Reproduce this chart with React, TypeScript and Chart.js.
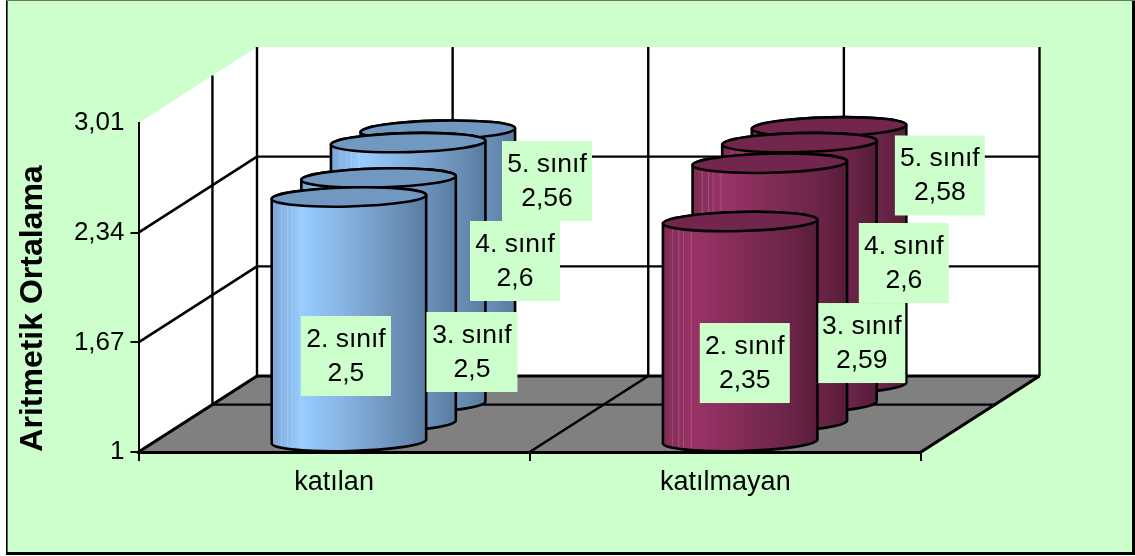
import React, { useEffect, useRef } from "react";
import { Chart, registerables } from "chart.js";

Chart.register(...registerables);

const categories = ["katılan", "katılmayan"];
const seriesNames = ["2. sınıf", "3. sınıf", "4. sınıf", "5. sınıf"];
const sinif2 = [2.5, 2.35];
const sinif3 = [2.5, 2.59];
const sinif4 = [2.6, 2.6];
const sinif5 = [2.56, 2.58];
const yTicks = [1, 1.67, 2.34, 3.01];
const axisTitle = "Aritmetik Ortalama";

const FONT = '"Liberation Sans", Arial, sans-serif';
const GREEN = "#CCFFCC";
const DEPTH_DX = 118.5;
const DEPTH_DY = 76;
const FLOOR_LINE = 0.624;
const RY = 9.5;
const TILT = -0.025;

const gradients = [
  [[0, "#78a4d6"], [0.06, "#86b4e4"], [0.2, "#99ccff"], [0.5, "#84b0dc"], [0.85, "#688db4"], [1, "#587a9e"]],
  [[0, "#7c2a54"], [0.06, "#8a2e5c"], [0.2, "#993366"], [0.55, "#7f2b55"], [0.85, "#692346"], [1, "#561c39"]],
];
const topFills = ["#7098c0", "#73264d"];
const sheenStripes = [0.06, 0.1, 0.13, 0.18];

// label box placement relative to the top centre of each cylinder: [dx, dy, boxWidth], by category then series
const labelPlacement = [
  [[-3, 159, 90], [93.4, 174, 91], [106.8, 118.4, 90], [109.2, 50.9, 90]],
  [[4.6, 141.5, 90], [92, 179.8, 87], [104.4, 120.4, 90], [110.8, 48.6, 90]],
];

const fmt = (v: number) => String(v).replace(".", ",");

const scenePlugin = {
  id: "scene3d",
  beforeDraw(chart: any) {
    const { ctx } = chart;
    const x = chart.scales.x;
    const y = chart.scales.y;
    const l = x.left, r = x.right;
    const b = y.bottom, t = y.top;
    const dx = DEPTH_DX, dy = DEPTH_DY;
    ctx.save();
    ctx.fillStyle = "#fff";
    ctx.fillRect(0, 0, chart.width, chart.height);
    ctx.fillStyle = GREEN;
    ctx.fillRect(6, 0, 1126, 553);
    ctx.fillStyle = "#000";
    ctx.fillRect(6, 0, 1.6, 555);
    ctx.fillRect(1132, 0, 3, 555);
    ctx.fillRect(6, 552, 1129, 3);
    ctx.fillStyle = "#667766";
    ctx.fillRect(6, 0, 1129, 1);

    // walls
    ctx.fillStyle = "#fff";
    ctx.beginPath();
    ctx.moveTo(l, b);
    ctx.lineTo(l + dx, b - dy);
    ctx.lineTo(r + dx, b - dy);
    ctx.lineTo(r + dx, t - dy);
    ctx.lineTo(l + dx, t - dy);
    ctx.lineTo(l, t);
    ctx.closePath();
    ctx.fill();

    // floor
    ctx.fillStyle = "#808080";
    ctx.beginPath();
    ctx.moveTo(l, b);
    ctx.lineTo(l + dx, b - dy);
    ctx.lineTo(r + dx, b - dy);
    ctx.lineTo(r, b);
    ctx.closePath();
    ctx.fill();

    ctx.strokeStyle = "#000";
    const seg = (x1: number, y1: number, x2: number, y2: number, w: number) => {
      ctx.lineWidth = w;
      ctx.beginPath();
      ctx.moveTo(x1, y1);
      ctx.lineTo(x2, y2);
      ctx.stroke();
    };

    // horizontal grid: side wall and back wall
    yTicks.forEach((v) => {
      if (v === yTicks[0] || v === yTicks[yTicks.length - 1]) return;
      const py = y.getPixelForValue(v);
      seg(l, py, l + dx, py - dy, 2.6);
      seg(l + dx, py - dy, r + dx, py - dy, 2.4);
    });
    // vertical grid: back wall, every half category
    const step = (r - l) / (categories.length * 2);
    for (let i = 0; i <= categories.length * 2; i++) {
      const px = l + dx + i * step;
      seg(px, t - dy, px, b - dy, 2.4);
    }
    // side wall vertical + floor cross line
    const fx = FLOOR_LINE * dx, fy = FLOOR_LINE * dy;
    seg(l + fx, t - fy, l + fx, b - fy, 2.4);
    seg(l + fx, b - fy, r + fx, b - fy, 2.4);
    // floor outline and category lines
    seg(l + dx, b - dy, r + dx, b - dy, 3);
    seg(l, b, l + dx, b - dy, 3.2);
    seg(r, b, r + dx, b - dy, 3.2);
    const mid = (l + r) / 2;
    seg(mid, b, mid + dx, b - dy, 2.6);
    ctx.restore();
  },
  afterDatasetsDraw(chart: any) {
    const { ctx } = chart;
    const n = chart.data.datasets.length;
    ctx.save();
    // back to front
    for (let s = n - 1; s >= 0; s--) {
      const frac = (s + 0.5) / n;
      const meta = chart.getDatasetMeta(s);
      meta.data.forEach((el: any, c: number) => {
        const p = el.getProps(["x", "y", "base", "width"], true);
        const cx = p.x + frac * DEPTH_DX;
        const rx = p.width / 2;
        const top = p.y - frac * DEPTH_DY;
        const base = p.base - frac * DEPTH_DY;
        const g = ctx.createLinearGradient(cx - rx, 0, cx + rx, 0);
        gradients[c].forEach(([o, col]: any) => g.addColorStop(o, col));
        const body = () => {
          ctx.beginPath();
          ctx.ellipse(cx, base, rx, RY, TILT, Math.PI, 0, true);
          ctx.ellipse(cx, top, rx, RY, TILT, 0, Math.PI, true);
          ctx.closePath();
        };
        body();
        ctx.fillStyle = g;
        ctx.fill();
        ctx.save();
        ctx.clip();
        ctx.fillStyle = "rgba(255,255,255,0.16)";
        sheenStripes.forEach((f) => ctx.fillRect(cx - rx + f * 2 * rx, top, 1, base - top + RY));
        ctx.restore();
        body();
        ctx.strokeStyle = "#000";
        ctx.lineWidth = 2.6;
        ctx.stroke();
        ctx.beginPath();
        ctx.ellipse(cx, top, rx, RY, TILT, 0, Math.PI * 2);
        ctx.fillStyle = topFills[c];
        ctx.fill();
        ctx.stroke();
      });
    }
    // data labels
    ctx.font = `26.5px ${FONT}`;
    ctx.textAlign = "center";
    ctx.textBaseline = "middle";
    for (let s = 0; s < n; s++) {
      const frac = (s + 0.5) / n;
      const ds = chart.data.datasets[s];
      chart.getDatasetMeta(s).data.forEach((el: any, c: number) => {
        const p = el.getProps(["x", "y"], true);
        const [ox, oy, w] = labelPlacement[c][s];
        const bx = p.x + frac * DEPTH_DX + ox;
        const by = p.y - frac * DEPTH_DY + oy;
        ctx.fillStyle = GREEN;
        ctx.fillRect(bx - w / 2, by - 40, w, 80);
        ctx.fillStyle = "#000";
        ctx.fillText(ds.label, bx, by - 16.5);
        ctx.fillText(fmt(ds.data[c]), bx, by + 17.5);
      });
    }
    // axis title
    ctx.save();
    ctx.translate(33, 308.5);
    ctx.rotate(-Math.PI / 2);
    ctx.font = `bold 32px ${FONT}`;
    ctx.fillStyle = "#000";
    ctx.fillText(axisTitle, 0, 0);
    ctx.restore();
    ctx.restore();
  },
};

export default function App() {
  const ref = useRef<HTMLCanvasElement>(null);
  useEffect(() => {
    const seriesValues = [sinif2, sinif3, sinif4, sinif5];
    const chart = new Chart(ref.current as HTMLCanvasElement, {
      type: "bar",
      data: {
        labels: categories,
        datasets: seriesNames.map((name, i) => ({
          label: name,
          data: seriesValues[i],
          base: yTicks[0],
          backgroundColor: "rgba(0,0,0,0)",
          borderWidth: 0,
          grouped: false,
          barPercentage: 0.395,
          categoryPercentage: 1,
        })),
      },
      options: {
        animation: false,
        responsive: false,
        layout: { padding: { top: 123, right: 214, bottom: 59, left: 0 } },
        plugins: { legend: { display: false }, title: { display: false }, tooltip: { enabled: false } },
        scales: {
          x: {
            offset: true,
            afterFit(s: any) { s.height = 45; },
            grid: { drawOnChartArea: false, color: "#000", lineWidth: 2, tickLength: 9 },
            border: { color: "#000", width: 3 },
            ticks: { color: "#000", font: { family: FONT, size: 27 }, padding: 5, maxRotation: 0 },
          },
          y: {
            min: 1,
            max: 3.01,
            afterFit(s: any) { s.width = 138.5; },
            afterBuildTicks(s: any) { s.ticks = yTicks.map((value) => ({ value })); },
            grid: {
              drawOnChartArea: false,
              tickLength: 8,
              lineWidth: 2,
              color: "#000",
              tickColor: (c: any) => (c.tick && c.tick.value === yTicks[yTicks.length - 1] ? "rgba(0,0,0,0)" : "#000"),
            },
            border: { color: "#000", width: 2 },
            ticks: {
              color: "#000",
              font: { family: FONT, size: 26 },
              padding: 6,
              autoSkip: false,
              callback: (v: any) => fmt(Number(v)),
            },
          },
        },
      },
      plugins: [scenePlugin],
    } as any);
    return () => chart.destroy();
  }, []);
  return (
    <canvas
      ref={ref}
      width={1135}
      height={556}
      style={{ position: "fixed", left: 0, top: 0, display: "block" }}
    />
  );
}
